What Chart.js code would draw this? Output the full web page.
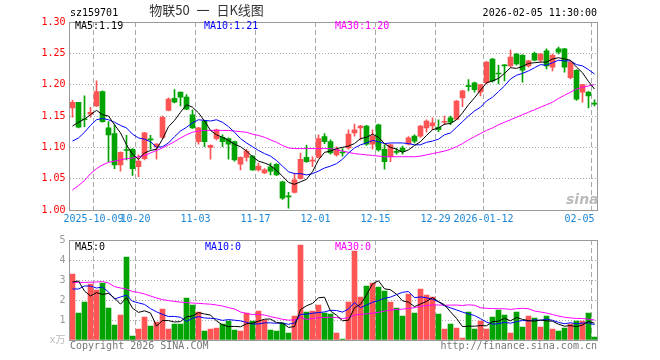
<!doctype html>
<html>
<head>
<meta charset="UTF-8" />
<script src="https://cdn.jsdelivr.net/npm/chart.js"></script>
<style>
    body { margin: 0; background: #fff; width: 660px; height: 360px; position: relative; overflow: hidden;
           font-family: "DejaVu Sans Mono", "Noto Sans CJK SC", monospace; font-size: 10px; }
    canvas { position: absolute; left: 0; }
    .t { position: absolute; line-height: 12px; white-space: pre; }
</style>
</head>
<body>
<canvas id="kChart" width="660" height="225" style="top:0"></canvas>
<canvas id="volChart" width="660" height="135" style="top:225px"></canvas>

<div class="t" style="left:70px;top:7px;color:#000">sz159701</div>
<div class="t" style="left:100px;width:213px;top:2px;line-height:16px;text-align:center;font-family:'Noto Sans CJK SC';font-size:13px;word-spacing:4px;color:#333">物联50 一 日K线图</div>
<div class="t" style="right:63px;top:7px;color:#000">2026-02-05 11:30:00</div>
<div class="t" style="left:75px;top:20px;color:#000">MA5:1.19</div>
<div class="t" style="left:204px;top:20px;color:#00f">MA10:1.21</div>
<div class="t" style="left:335px;top:20px;color:#f0f">MA30:1.20</div>
<div class="t" style="left:75px;top:241px;color:#000">MA5:0</div>
<div class="t" style="left:205px;top:241px;color:#00f">MA10:0</div>
<div class="t" style="left:335px;top:241px;color:#f0f">MA30:0</div>
<div class="t" style="left:70px;top:340px;color:#777">Copyright 2026 SINA.COM</div>
<div class="t" style="right:63px;top:340px;color:#777">http://finance.sina.com.cn</div>
<div class="t" style="left:566px;top:191px;line-height:16px;font-family:'DejaVu Sans';font-size:14px;font-weight:bold;font-style:italic;color:#bbb">sina</div>

<script>
// trading days shown on the chart
const dates = [
    "2025-09-25","2025-09-26","2025-09-29","2025-09-30",
    "2025-10-09","2025-10-10","2025-10-13","2025-10-14","2025-10-15","2025-10-16","2025-10-17",
    "2025-10-20","2025-10-21","2025-10-22","2025-10-23","2025-10-24",
    "2025-10-27","2025-10-28","2025-10-29","2025-10-30","2025-10-31",
    "2025-11-03","2025-11-04","2025-11-05","2025-11-06","2025-11-07",
    "2025-11-10","2025-11-11","2025-11-12","2025-11-13","2025-11-14",
    "2025-11-17","2025-11-18","2025-11-19","2025-11-20","2025-11-21",
    "2025-11-24","2025-11-25","2025-11-26","2025-11-27","2025-11-28",
    "2025-12-01","2025-12-02","2025-12-03","2025-12-04","2025-12-05",
    "2025-12-08","2025-12-09","2025-12-10","2025-12-11","2025-12-12",
    "2025-12-15","2025-12-16","2025-12-17","2025-12-18","2025-12-19",
    "2025-12-22","2025-12-23","2025-12-24","2025-12-25","2025-12-26",
    "2025-12-29","2025-12-30","2025-12-31",
    "2026-01-05","2026-01-06","2026-01-07","2026-01-08","2026-01-09",
    "2026-01-12","2026-01-13","2026-01-14","2026-01-15","2026-01-16",
    "2026-01-19","2026-01-20","2026-01-21","2026-01-22","2026-01-23",
    "2026-01-26","2026-01-27","2026-01-28","2026-01-29","2026-01-30",
    "2026-02-02","2026-02-03","2026-02-04","2026-02-05"
];
const tickDates = ["2025-10-09","2025-10-20","2025-11-03","2025-11-17","2025-12-01",
                   "2025-12-15","2025-12-29","2026-01-12","2026-02-05"];
// last label sits left of its grid line, as in the original
const tickLabels = ["2025-10-09","10-20","11-03","11-17","12-01","12-15","12-29","2026-01-12","02-05    "];

const opens = [1.163,1.172,1.145,1.153,1.166,1.189,1.131,1.122,1.072,1.096,
    1.097,1.069,1.082,1.113,1.101,1.116,1.159,1.178,1.188,1.180,
    1.152,1.109,1.142,1.100,1.114,1.116,1.114,1.109,1.073,1.084,
    1.086,1.064,1.059,1.069,1.073,1.045,1.022,1.028,1.050,1.084,
    1.078,1.084,1.117,1.109,1.088,1.092,1.099,1.123,1.131,1.134,
    1.105,1.136,1.097,1.085,1.093,1.099,1.105,1.118,1.118,1.131,
    1.134,1.132,1.140,1.147,1.145,1.179,1.198,1.203,1.188,1.203,
    1.241,1.218,1.231,1.230,1.249,1.247,1.230,1.250,1.239,1.254,
    1.228,1.257,1.257,1.211,1.223,1.188,1.188,1.170];
const highs = [1.175,1.172,1.182,1.164,1.206,1.190,1.141,1.136,1.093,1.119,
    1.098,1.088,1.124,1.119,1.106,1.150,1.179,1.192,1.188,1.184,
    1.160,1.132,1.143,1.104,1.129,1.120,1.115,1.110,1.085,1.097,
    1.087,1.075,1.066,1.075,1.074,1.046,1.028,1.059,1.091,1.103,
    1.085,1.120,1.122,1.112,1.101,1.098,1.128,1.137,1.135,1.135,
    1.128,1.137,1.104,1.105,1.099,1.102,1.117,1.120,1.135,1.144,
    1.147,1.144,1.150,1.150,1.175,1.191,1.208,1.204,1.200,1.237,
    1.242,1.231,1.232,1.255,1.250,1.248,1.239,1.252,1.250,1.257,
    1.249,1.260,1.258,1.237,1.224,1.200,1.189,1.176];
const lows = [1.148,1.131,1.133,1.148,1.165,1.140,1.077,1.066,1.062,1.080,
    1.055,1.053,1.080,1.097,1.081,1.114,1.158,1.171,1.166,1.160,
    1.130,1.105,1.101,1.081,1.112,1.101,1.081,1.078,1.064,1.078,
    1.063,1.062,1.058,1.056,1.055,1.017,1.003,1.027,1.049,1.076,
    1.069,1.083,1.106,1.089,1.086,1.086,1.097,1.118,1.112,1.103,
    1.097,1.094,1.065,1.077,1.089,1.089,1.104,1.107,1.116,1.124,
    1.128,1.125,1.136,1.136,1.144,1.165,1.190,1.188,1.182,1.201,
    1.204,1.201,1.206,1.228,1.231,1.204,1.228,1.238,1.236,1.225,
    1.222,1.249,1.220,1.209,1.175,1.172,1.163,1.166];
const closes = [1.172,1.132,1.144,1.156,1.189,1.141,1.120,1.072,1.092,1.095,
    1.066,1.078,1.123,1.112,1.105,1.148,1.177,1.172,1.180,1.161,
    1.131,1.131,1.109,1.103,1.128,1.109,1.105,1.080,1.084,1.094,
    1.064,1.070,1.064,1.062,1.056,1.019,1.021,1.048,1.081,1.077,
    1.079,1.114,1.109,1.091,1.097,1.091,1.121,1.128,1.134,1.105,
    1.118,1.096,1.077,1.104,1.092,1.093,1.115,1.110,1.134,1.142,
    1.139,1.128,1.141,1.140,1.174,1.190,1.197,1.192,1.200,1.236,
    1.206,1.217,1.230,1.244,1.233,1.223,1.238,1.239,1.249,1.230,
    1.247,1.252,1.228,1.236,1.177,1.200,1.182,1.169];

const ma5 = [1.134,1.140,1.145,1.152,1.159,1.152,1.150,1.136,1.123,1.104,
    1.089,1.081,1.091,1.095,1.097,1.113,1.133,1.143,1.156,1.168,
    1.164,1.155,1.142,1.127,1.120,1.116,1.111,1.105,1.101,1.094,
    1.085,1.078,1.075,1.071,1.063,1.054,1.044,1.041,1.045,1.049,
    1.061,1.080,1.092,1.094,1.098,1.100,1.102,1.106,1.114,1.116,
    1.121,1.116,1.106,1.100,1.097,1.092,1.096,1.103,1.109,1.119,
    1.128,1.131,1.137,1.138,1.144,1.155,1.168,1.179,1.191,1.203,
    1.206,1.210,1.218,1.227,1.226,1.229,1.234,1.235,1.236,1.236,
    1.241,1.243,1.241,1.239,1.228,1.219,1.205,1.193];
const ma10 = [1.110,1.115,1.124,1.135,1.144,1.146,1.144,1.140,1.135,1.131,
    1.121,1.115,1.113,1.109,1.100,1.101,1.107,1.117,1.126,1.132,
    1.139,1.144,1.143,1.142,1.144,1.140,1.133,1.124,1.114,1.107,
    1.101,1.095,1.090,1.086,1.079,1.070,1.061,1.058,1.058,1.056,
    1.058,1.062,1.067,1.070,1.074,1.081,1.091,1.099,1.104,1.107,
    1.111,1.109,1.106,1.107,1.107,1.107,1.106,1.104,1.104,1.108,
    1.110,1.113,1.120,1.123,1.132,1.141,1.150,1.158,1.164,1.174,
    1.180,1.189,1.198,1.209,1.215,1.218,1.222,1.227,1.232,1.231,
    1.235,1.239,1.238,1.238,1.232,1.230,1.224,1.217];
const ma30 = [1.032,1.039,1.047,1.058,1.066,1.072,1.076,1.078,1.080,1.082,
    1.083,1.085,1.087,1.091,1.095,1.099,1.104,1.109,1.115,1.120,
    1.124,1.126,1.127,1.127,1.127,1.127,1.127,1.126,1.125,1.124,
    1.121,1.119,1.116,1.112,1.108,1.103,1.099,1.098,1.098,1.098,
    1.098,1.098,1.098,1.098,1.096,1.094,1.092,1.090,1.089,1.088,
    1.087,1.086,1.085,1.085,1.085,1.085,1.085,1.085,1.086,1.088,
    1.090,1.092,1.094,1.097,1.101,1.106,1.112,1.117,1.122,1.127,
    1.131,1.136,1.140,1.144,1.148,1.152,1.156,1.160,1.164,1.168,
    1.172,1.178,1.183,1.188,1.193,1.196,1.198,1.200];

// volume, in 万
const volumes = [3.3,1.35,1.9,2.8,2.5,2.85,1.6,0.75,1.25,4.15,
    0.2,0.55,1.15,0.7,0.9,1.55,0.55,0.8,0.8,2.1,
    1.75,1.4,0.45,0.55,0.6,0.8,0.95,0.5,0.45,1.35,
    0.95,1.45,1.0,0.5,0.45,0.85,0.35,1.2,4.75,1.4,
    1.45,1.75,1.35,1.3,0.35,0.05,1.9,4.45,2.15,2.7,
    2.85,2.65,2.45,1.9,1.6,1.2,2.3,1.35,2.55,2.25,
    2.15,1.3,0.55,0.8,0.6,0.1,1.4,0.55,0.95,0.55,
    1.15,1.5,1.25,0.35,1.4,0.65,1.2,1.1,0.65,1.2,
    0.55,0.45,0.6,0.8,0.95,0.95,1.35,0.15];
const volMa5 = [2.9,2.95,2.45,2.2,2.37,2.28,2.33,2.1,1.79,2.12,
    1.59,1.38,1.46,1.35,0.70,0.97,0.97,0.90,0.92,1.16,
    1.20,1.37,1.30,1.25,0.95,0.76,0.67,0.68,0.66,0.81,
    0.84,0.94,1.04,1.05,0.87,0.85,0.63,0.67,1.52,1.71,
    1.83,2.11,2.14,1.45,1.24,0.96,0.99,1.61,1.78,2.25,
    2.81,2.96,2.56,2.51,2.29,1.96,1.89,1.67,1.80,1.93,
    2.12,1.92,1.76,1.41,1.08,0.67,0.69,0.69,0.72,0.71,
    0.92,0.94,1.08,0.96,1.13,1.03,0.97,0.94,1.00,0.96,
    0.94,0.79,0.69,0.72,0.67,0.75,0.93,0.84];
const volMa10 = [2.55,2.55,2.7,2.7,2.6,2.65,2.4,2.05,2.15,2.245,
    1.935,1.855,1.78,1.57,1.41,1.28,1.175,1.18,1.135,0.93,
    1.085,1.17,1.10,1.085,1.055,0.98,1.02,0.99,0.955,0.88,
    0.80,0.805,0.86,0.855,0.84,0.845,0.785,0.855,1.285,1.29,
    1.34,1.37,1.405,1.485,1.475,1.395,1.55,1.875,1.615,1.745,
    1.885,1.975,2.085,2.145,2.27,2.385,2.425,2.115,2.155,2.11,
    2.04,1.905,1.715,1.605,1.505,1.395,1.305,1.225,1.065,0.895,
    0.795,0.815,0.885,0.84,0.92,0.975,0.955,1.01,0.98,1.045,
    0.985,0.88,0.815,0.86,0.815,0.845,0.86,0.765];
const volMa30 = [2.88,2.88,2.88,2.89,2.9,2.92,2.85,2.67,2.6,2.55,
    2.42,2.38,2.3,2.2,2.1,2.02,1.97,1.93,1.89,1.87,
    1.85,1.83,1.81,1.79,1.75,1.7,1.62,1.55,1.4,1.33,
    1.27,1.277,1.247,1.17,1.102,1.035,0.993,1.008,1.125,1.033,
    1.075,1.115,1.122,1.142,1.123,1.073,1.118,1.24,1.285,1.305,
    1.342,1.383,1.45,1.495,1.528,1.542,1.587,1.615,1.685,1.715,
    1.755,1.75,1.735,1.745,1.75,1.725,1.76,1.738,1.612,1.583,
    1.573,1.565,1.562,1.53,1.565,1.585,1.562,1.45,1.40,1.35,
    1.273,1.20,1.138,1.102,1.08,1.072,1.04,1.0];

const UP = "#ff5454";
const DOWN = "#00a300";
const GRID = "#aaa";
const colors = closes.map((c, i) => (c > opens[i] ? UP : DOWN));
const tickText = dates.map((d) => {
    const k = tickDates.indexOf(d);
    return k < 0 ? "" : tickLabels[k];
});

Chart.defaults.font.family = '"DejaVu Sans Mono", "Noto Sans CJK SC", monospace';
Chart.defaults.font.size = 10;

// grey box round the plot area
const frame = {
    id: "frame",
    afterDraw(chart) {
        const { ctx, chartArea: a } = chart;
        const l = Math.floor(a.left) + 0.5, r = Math.floor(a.right) + 0.5;
        const t = Math.floor(a.top) + 0.5, b = Math.floor(a.bottom) + 0.5;
        ctx.save();
        ctx.strokeStyle = "#999";
        ctx.lineWidth = 1;
        ctx.strokeRect(l, t, r - l, b - t);
        ctx.restore();
    },
};

const line = (data, color) => ({
    type: "line", data, borderColor: color, borderWidth: 1,
    pointRadius: 0, tension: 0, order: 0,
});

const xAxis = (showTicks, height) => ({
    offset: true,
    grid: {
        offset: true, drawTicks: false,
        color: (c) => (c.tick && tickText[c.index] ? GRID : "transparent"),
    },
    border: { display: false, dash: [5, 3] },
    ticks: {
        display: showTicks, autoSkip: false, maxRotation: 0, padding: 3,
        labelOffset: -3, color: "#1a86d8",
        callback: (v, i) => tickText[i],
    },
    afterFit: (s) => { s.height = height; },
});

const common = {
    responsive: false,
    animation: false,
    events: [],
    plugins: { legend: { display: false }, tooltip: { enabled: false } },
};

new Chart(document.getElementById("kChart"), {
    type: "bar",
    data: {
        labels: dates,
        datasets: [
            line(ma5, "#000"),
            line(ma10, "#00f"),
            line(ma30, "#f0f"),
            {
                data: lows.map((l, i) => [l, highs[i]]),
                backgroundColor: colors, barThickness: 1, grouped: false, order: 2,
            },
            {
                data: opens.map((o, i) => [o, closes[i]]),
                backgroundColor: colors, barThickness: 5, minBarLength: 1,
                grouped: false, order: 1,
            },
        ],
    },
    options: {
        ...common,
        layout: { padding: { top: 22, right: 62.5, left: 0, bottom: 0 } },
        scales: {
            x: xAxis(true, 15),
            y: {
                min: 1.0, max: 1.3,
                ticks: { stepSize: 0.05, color: "#f00", padding: 4, callback: (v) => v.toFixed(2) },
                grid: {
                    drawTicks: false,
                    color: (c) => (c.tick && c.tick.value > 1.001 && c.tick.value < 1.299 ? GRID : "transparent"),
                },
                border: { display: false, dash: [1, 2] },
                afterFit: (s) => { s.width = 69.5; },
            },
        },
    },
    plugins: [frame],
});

new Chart(document.getElementById("volChart"), {
    type: "bar",
    data: {
        labels: dates,
        datasets: [
            line(volMa5, "#000"),
            line(volMa10, "#00f"),
            line(volMa30, "#f0f"),
            { data: volumes, backgroundColor: colors, barThickness: 5, order: 1 },
        ],
    },
    options: {
        ...common,
        layout: { padding: { top: 15, right: 62.5, left: 0, bottom: 0 } },
        scales: {
            x: xAxis(false, 20),
            y: {
                min: 0, max: 5,
                ticks: {
                    stepSize: 1, padding: 4,
                    color: (c) => (c.tick && c.tick.value === 0 ? "#bbb" : "#999"),
                    callback: (v) => (v === 0 ? "x万" : v),
                },
                grid: {
                    drawTicks: false,
                    color: (c) => (c.tick && c.tick.value > 0 && c.tick.value < 5 ? GRID : "transparent"),
                },
                border: { display: false, dash: [1, 2] },
                afterFit: (s) => { s.width = 69.5; },
            },
        },
    },
    plugins: [frame],
});
</script>
</body>
</html>
